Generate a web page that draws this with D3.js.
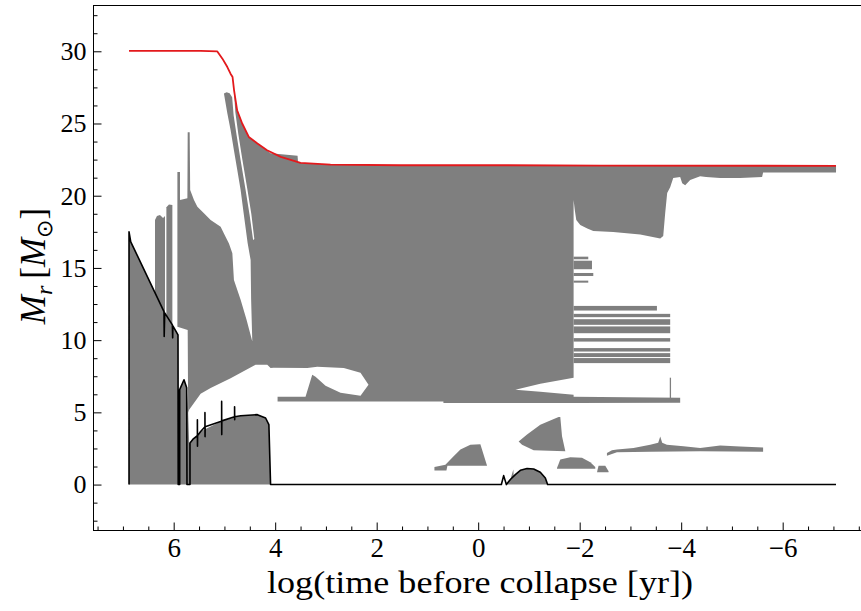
<!DOCTYPE html>
<html>
<head>
<meta charset="utf-8">
<script src="https://cdn.jsdelivr.net/npm/d3@7"></script>
<style>
  html, body { margin: 0; padding: 0; background: #fff; }
  svg { display: block; }
  text { font-family: "Liberation Serif", "DejaVu Serif", serif; fill: #000; }
</style>
</head>
<body>
<svg id="chart" width="861" height="611"></svg>
<script>
// ---- data: log(time before collapse [yr]) vs M_r [Msun] ----
const xMajorTicks = [6, 4, 2, 0, -2, -4, -6];
const yMajorTicks = [0, 5, 10, 15, 20, 25, 30];
const xLabel = "log(time before collapse [yr])";

// stellar surface mass (red line)
const surfaceMass = [[6.88,30.03],[5.47,30.03],[5.14,29.99],[5.04,29.49],[4.943,28.91],[4.88,28.45],[4.84,28.22],
  [4.81,27.30],[4.78,26.6],[4.75,25.92],[4.65,25.00],[4.52,24.07],[4.35,23.61],[4.16,23.15],[3.89,22.69],[3.50,22.27],
  [2.91,22.15],[1.53,22.11],[-0.44,22.11],[-2.41,22.09],[-7.05,22.07]];

// convective core boundary (black line)
const coreBoundary = [[6.88,0],[6.88,17.50],[6.846,16.81],[6.191,11.98],[6.187,10.25],[6.177,11.89],[6.026,11.06],
  [6.02,10.16],[6.016,10.99],[5.915,10.37],[5.911,0],[5.882,0],[5.882,6.57],[5.797,7.26],[5.744,6.70],[5.738,0],
  [5.679,0],[5.679,2.88],[5.62,3.14],[5.533,3.38],[5.533,4.49],[5.531,2.65],[5.529,3.39],[5.469,3.68],[5.384,4.00],
  [5.384,4.98],[5.382,3.32],[5.380,4.01],[5.075,4.37],[5.055,4.40],[5.055,5.76],[5.053,3.46],[5.051,4.41],[4.80,4.70],
  [4.80,5.39],[4.798,4.49],[4.796,4.70],[4.681,4.77],[4.352,4.84],[4.189,4.61],[4.124,4.15],[4.091,0],[-0.457,0],
  [-0.502,0.62],[-0.555,0],[-0.634,0.35],[-0.732,0.69],[-0.831,0.99],[-0.963,1.11],[-1.093,1.08],[-1.224,0.85],
  [-1.323,0.46],[-1.368,0],[-7.051,0]];

// convective zones (grey)
const hCoreZone = [[6.88,0],[6.88,17.50],[6.846,16.81],[6.191,11.98],[6.026,11.06],[5.915,10.37],[5.911,0]];
const spikeZone = [[5.882,0],[5.882,6.57],[5.797,7.26],[5.744,6.70],[5.738,0]];
const heCoreZone = [[5.744,0],[5.744,6.70],[5.715,4.98],[5.695,2.90],[5.679,2.88],[5.62,3.14],[5.469,3.68],
  [5.075,4.37],[4.681,4.77],[4.352,4.84],[4.189,4.61],[4.124,4.15],[4.091,0]];
const earlyStrip1 = [[6.368,13.29],[6.368,18.31],[6.33,18.59],[6.27,18.66],[6.21,18.45],[6.171,18.59],[6.171,11.87],[6.191,11.98]];
const earlyStrip2 = [[6.144,11.71],[6.144,19.20],[6.093,19.40],[6.026,19.35],[6.026,11.06]];
const envelopeZone = [[5.927,10.92],[5.927,21.65],[5.876,21.65],[5.876,19.70],[5.730,19.83],[5.724,24.40],[5.685,24.40],
  [5.675,20.39],[5.600,19.70],[5.533,19.23],[5.404,18.78],[5.272,18.31],[5.075,17.85],[5.010,17.39],[4.911,16.70],
  [4.844,16.01],[4.813,14.17],[4.681,12.79],[4.563,11.40],[4.451,9.90],[4.474,12.79],[4.484,15.55],[4.543,16.72],
  [4.622,18.80],[4.681,20.39],[4.746,21.77],[4.813,23.15],[4.878,24.53],[4.943,25.71],[5.010,27.07],[4.957,27.16],
  [4.898,27.09],[4.848,26.81],[4.819,25.57],[4.760,24.19],[4.681,22.46],[4.583,20.39],[4.504,18.66],[4.435,16.93],
  [4.411,17.00],[4.470,18.73],[4.549,20.46],[4.648,22.53],[4.726,24.26],[4.785,25.78],[4.813,27.30],[4.746,25.92],
  [4.648,25.00],[4.518,24.07],[4.352,23.61],[4.248,23.36],[4.091,22.94],[3.559,22.77],[3.549,22.29],[3.500,22.27],
  [2.909,22.15],[1.531,22.11],[-0.437,22.11],[-2.406,22.09],[-7.051,22.07],[-7.051,21.60],[-5.614,21.60],
  [-5.594,21.29],[-5.161,21.22],[-4.768,21.22],[-4.492,21.29],[-4.374,21.35],[-4.177,21.08],[-4.079,20.73],
  [-4.020,20.87],[-3.980,21.29],[-3.843,21.22],[-3.783,20.59],[-3.724,20.18],[-3.685,18.80],[-3.646,17.21],
  [-3.587,17.04],[-3.193,17.31],[-2.661,17.48],[-2.268,17.55],[-2.150,17.73],[-2.012,17.97],[-1.933,18.31],
  [-1.904,19.00],[-1.880,19.70],[-1.880,7.39],[-1.224,6.98],[-0.732,6.57],[-1.224,6.43],[-1.880,6.22],
  [-1.880,6.08],[-3.980,6.01],[-3.980,5.67],[-1.880,5.65],[0.685,5.65],[0.685,5.76],[3.953,5.76],[3.953,6.08],
  [3.402,6.08],[3.270,7.60],[3.205,7.46],[3.008,6.84],[2.713,6.36],[2.319,6.15],[2.161,6.91],[2.319,7.74],
  [2.648,8.07],[3.171,8.15],[3.368,8.07],[4.031,8.09],[4.091,8.07],[4.156,8.29],[4.386,8.29],[4.451,8.18],
  [4.878,7.37],[5.272,6.68],[5.469,6.29],[5.695,5.18],[5.715,4.98],[5.724,10.71]];
const shellZone1 = [[0.862,0.97],[0.862,1.21],[0.646,1.38],[0.508,1.87],[0.350,2.42],[0.154,2.76],[-0.043,2.80],
  [-0.175,1.31],[0.606,1.31],[0.626,0.97]];
const shellZone2 = [[-0.797,2.99],[-0.963,3.46],[-1.224,4.15],[-1.455,4.49],[-1.585,4.68],[-1.618,4.68],[-1.652,3.34],
  [-1.717,2.30],[-1.093,2.37],[-0.864,2.76]];
const shellZone3 = [[-1.553,1.15],[-1.618,1.73],[-1.815,1.89],[-2.045,1.85],[-2.209,1.54],[-2.307,1.22],[-2.307,1.09],[-1.553,1.09]];
const shellZone4 = [[-2.341,0.85],[-2.372,1.31],[-2.504,1.31],[-2.569,0.92],[-2.569,0.85]];
const shellZone5 = [[-2.537,2.19],[-2.636,2.37],[-2.734,2.42],[-3.061,2.54],[-3.390,2.76],[-3.547,2.90],[-3.587,3.32],
  [-3.626,2.90],[-3.718,2.76],[-4.045,2.65],[-4.374,2.54],[-4.768,2.70],[-5.161,2.63],[-5.614,2.56],[-5.614,2.28],
  [-4.374,2.30],[-3.390,2.28],[-2.734,2.23],[-2.537,2.00]];
const bumpZone = [[-0.555,0],[-0.634,0.35],[-0.693,1.04],[-0.700,0.60],[-0.732,0.69],[-0.831,0.99],[-0.963,1.11],
  [-1.093,1.08],[-1.224,0.85],[-1.323,0.46],[-1.368,0]];

// thin horizontal convective streaks after core carbon burning
const streakStart = [-1.880,-1.880,-1.880,-1.880,-1.880,-1.880,-1.880,-1.880,-1.880,-1.880,-1.880,-1.880,-3.775];
const streakEnd   = [-2.169,-2.242,-2.268,-2.169,-3.522,-3.783,-3.783,-3.783,-3.783,-3.783,-3.783,-3.783,-3.800];
const streakLo    = [15.60,14.91,14.44,13.98,12.05,11.59,11.06,10.48,9.90,9.21,8.83,8.41,5.90];
const streakHi    = [15.78,15.50,14.65,14.12,12.37,11.82,11.45,10.95,10.14,9.45,9.10,8.76,7.40];

const zones = [hCoreZone, spikeZone, heCoreZone, earlyStrip1, earlyStrip2, envelopeZone,
  shellZone1, shellZone2, shellZone3, shellZone4, shellZone5, bumpZone];

// ---- drawing ----
const svg = d3.select("#chart");
const x = d3.scaleLinear().domain([7.58, -7.75]).range([93.5, 871.5]);
const y = d3.scaleLinear().domain([-3.18, 33.17]).range([530.5, 5.5]);
const grey = "#7f7f7f";

const line = d3.line().x(d => x(d[0])).y(d => y(d[1]));

const gZones = svg.append("g");
gZones.selectAll("path").data(zones).join("path")
  .attr("d", d => line(d) + "Z")
  .attr("fill", grey).attr("stroke", "none");

gZones.selectAll("rect").data(d3.range(streakStart.length)).join("rect")
  .attr("x", i => x(streakStart[i]))
  .attr("width", i => Math.max(1, x(streakEnd[i]) - x(streakStart[i])))
  .attr("y", i => y(streakHi[i]))
  .attr("height", i => y(streakLo[i]) - y(streakHi[i]))
  .attr("fill", grey);

svg.append("path").datum(coreBoundary).attr("d", line)
  .attr("fill", "none").attr("stroke", "#000").attr("stroke-width", 1.6).attr("stroke-linejoin", "round");

svg.append("path").datum(surfaceMass).attr("d", line)
  .attr("fill", "none").attr("stroke", "#e3191c").attr("stroke-width", 1.8).attr("stroke-linejoin", "round");

// axes
const xMinor = d3.range(-15, 16).map(k => k * 0.5).filter(v => !xMajorTicks.includes(v));
const yMinor = d3.range(-2, 27).map(k => k * 1.25).filter(v => !yMajorTicks.includes(v));

const bottom = 530.5, left = 93.5;
const gx = svg.append("g").attr("transform", `translate(0,${bottom})`)
  .call(d3.axisBottom(x).tickValues(xMajorTicks).tickSize(-8).tickPadding(7));
gx.selectAll("text").attr("font-size", 27).attr("font-family", "Liberation Serif");
const gxm = svg.append("g").attr("transform", `translate(0,${bottom})`)
  .call(d3.axisBottom(x).tickValues(xMinor).tickSize(-4).tickFormat(""));

const gy = svg.append("g").attr("transform", `translate(${left},0)`)
  .call(d3.axisLeft(y).tickValues(yMajorTicks).tickSize(-8).tickPadding(7));
gy.selectAll("text").attr("font-size", 26).attr("font-family", "Liberation Serif");
const gym = svg.append("g").attr("transform", `translate(${left},0)`)
  .call(d3.axisLeft(y).tickValues(yMinor).tickSize(-4).tickFormat(""));

[gx, gxm, gy, gym].forEach(g => {
  g.select(".domain").remove();
  g.selectAll("line").attr("stroke", "#000").attr("stroke-width", 1);
});

// frame
svg.append("rect").attr("x", left).attr("y", 5.5).attr("width", 871.5 - left).attr("height", bottom - 5.5)
  .attr("fill", "none").attr("stroke", "#000").attr("stroke-width", 1);

// labels
svg.append("text").attr("x", 480).attr("y", 593).attr("text-anchor", "middle")
  .attr("font-size", 32).attr("textLength", 426).attr("lengthAdjust", "spacingAndGlyphs")
  .text(xLabel);

const yl = svg.append("text").attr("transform", "translate(45,266) rotate(-90)")
  .attr("text-anchor", "middle").attr("font-size", 35);
yl.append("tspan").attr("font-style", "italic").text("M");
yl.append("tspan").attr("font-style", "italic").attr("font-size", 24).attr("dy", 7).text("r");
yl.append("tspan").attr("dy", -7).text("\u2009[");
yl.append("tspan").attr("font-style", "italic").text("M");
yl.append("tspan").attr("font-size", 22).attr("dy", 7).attr("font-family", "DejaVu Sans").text("\u2299");
yl.append("tspan").attr("dy", -7).text("]");
</script>
</body>
</html>
